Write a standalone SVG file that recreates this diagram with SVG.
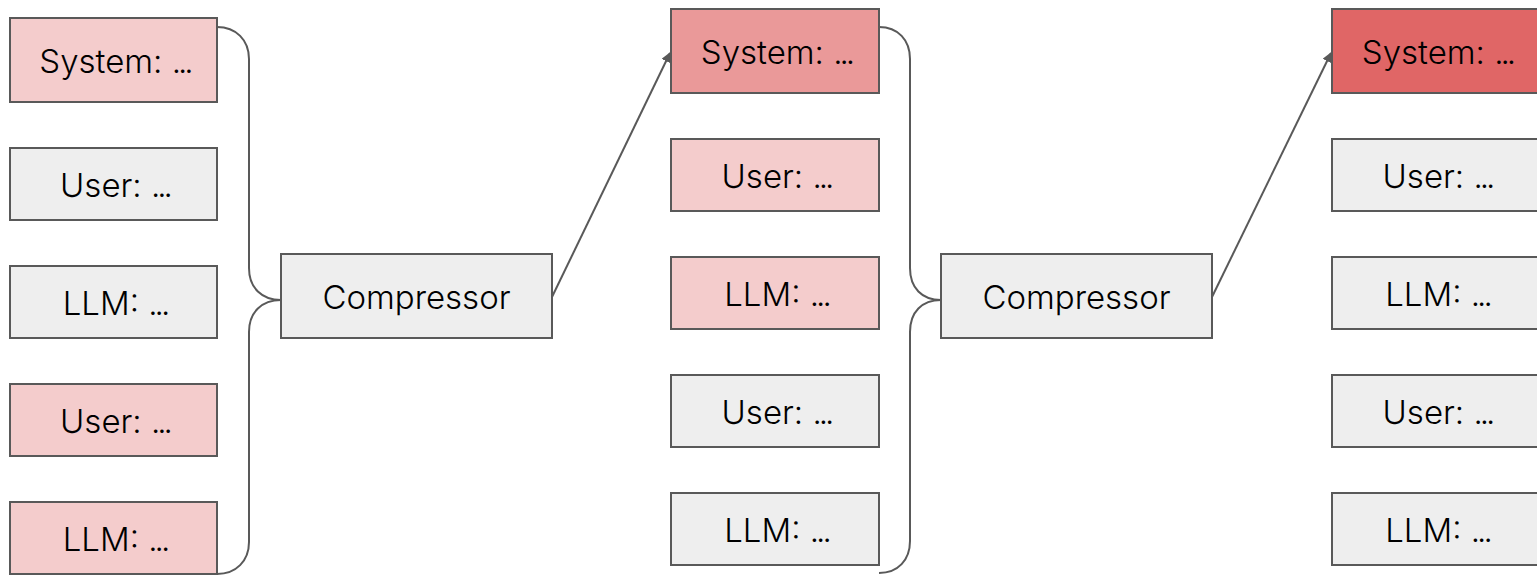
<svg xmlns="http://www.w3.org/2000/svg" width="1537" height="575" viewBox="0 0 1537 575">
  <style>
    .box { stroke: #595959; stroke-width: 2; }
    .pink { fill: #f4cccc; }
    .gray { fill: #eeeeee; }
    .red1 { fill: #ea9999; }
    .red2 { fill: #e06666; }
    .lbl { font-family: Inter, "Noto Sans", "Liberation Sans", sans-serif; font-weight: 300; font-size: 33px; fill: #000; text-anchor: middle; dominant-baseline: central; }
    .dots { letter-spacing: -3px; }
    .wire { fill: none; stroke: #595959; stroke-width: 2; }
  </style>
  <defs>
    <marker id="head" viewBox="0 0 10 10" refX="9" refY="5" markerWidth="5" markerHeight="5" orient="auto" markerUnits="strokeWidth">
      <path d="M0,0 L10,5 L0,10 z" fill="#595959"/>
    </marker>
  </defs>

  <!-- first conversation -->
  <g id="c1-system"><rect class="box pink" x="10" y="18" width="207" height="84"/><text class="lbl" x="115" y="61">System: <tspan class="dots">...</tspan></text></g>
  <g id="c1-user1"><rect class="box gray" x="10" y="148" width="207" height="72"/><text class="lbl" x="115" y="185">User: <tspan class="dots">...</tspan></text></g>
  <g id="c1-llm1"><rect class="box gray" x="10" y="266" width="207" height="72"/><text class="lbl" x="115" y="303">LLM: <tspan class="dots">...</tspan></text></g>
  <g id="c1-user2"><rect class="box pink" x="10" y="384" width="207" height="72"/><text class="lbl" x="115" y="421">User: <tspan class="dots">...</tspan></text></g>
  <g id="c1-llm2"><rect class="box pink" x="10" y="502" width="207" height="72"/><text class="lbl" x="115" y="539">LLM: <tspan class="dots">...</tspan></text></g>

  <g id="compressor1"><rect class="box gray" x="281" y="254" width="271" height="84"/><text class="lbl" x="416.5" y="297">Compressor</text></g>

  <!-- second conversation -->
  <g id="c2-system"><rect class="box red1" x="671" y="9" width="208" height="84"/><text class="lbl" x="776.5" y="52">System: <tspan class="dots">...</tspan></text></g>
  <g id="c2-user1"><rect class="box pink" x="671" y="139" width="208" height="72"/><text class="lbl" x="776.5" y="176">User: <tspan class="dots">...</tspan></text></g>
  <g id="c2-llm1"><rect class="box pink" x="671" y="257" width="208" height="72"/><text class="lbl" x="776.5" y="294">LLM: <tspan class="dots">...</tspan></text></g>
  <g id="c2-user2"><rect class="box gray" x="671" y="375" width="208" height="72"/><text class="lbl" x="776.5" y="412">User: <tspan class="dots">...</tspan></text></g>
  <g id="c2-llm2"><rect class="box gray" x="671" y="493" width="208" height="72"/><text class="lbl" x="776.5" y="530">LLM: <tspan class="dots">...</tspan></text></g>

  <g id="compressor2"><rect class="box gray" x="941" y="254" width="271" height="84"/><text class="lbl" x="1076.5" y="297">Compressor</text></g>

  <!-- third conversation -->
  <g id="c3-system"><rect class="box red2" x="1332" y="9" width="208" height="84"/><text class="lbl" x="1437.5" y="52">System: <tspan class="dots">...</tspan></text></g>
  <g id="c3-user1"><rect class="box gray" x="1332" y="139" width="208" height="72"/><text class="lbl" x="1437.5" y="176">User: <tspan class="dots">...</tspan></text></g>
  <g id="c3-llm1"><rect class="box gray" x="1332" y="257" width="208" height="72"/><text class="lbl" x="1437.5" y="294">LLM: <tspan class="dots">...</tspan></text></g>
  <g id="c3-user2"><rect class="box gray" x="1332" y="375" width="208" height="72"/><text class="lbl" x="1437.5" y="412">User: <tspan class="dots">...</tspan></text></g>
  <g id="c3-llm2"><rect class="box gray" x="1332" y="493" width="208" height="72"/><text class="lbl" x="1437.5" y="530">LLM: <tspan class="dots">...</tspan></text></g>

  <g id="connectors">
    <!-- braces gathering each conversation into its compressor -->
    <path class="wire" d="M217,27 C236,27 249,40 249,59 L249,268 C249,288 262,300 281,300 C262,300 249,312 249,332 L249,542 C249,561 236,574 217,574"/>
    <path class="wire" d="M879,27 C898,27 910,40 910,59 L910,268 C910,288 922,300 941,300 C922,300 910,312 910,332 L910,541 C910,560 898,573 879,573"/>
    <!-- compressed system prompt fed forward -->
    <path class="wire" d="M552,297 L670,53" marker-end="url(#head)"/>
    <path class="wire" d="M1212,297 L1331,53" marker-end="url(#head)"/>
  </g>
</svg>
